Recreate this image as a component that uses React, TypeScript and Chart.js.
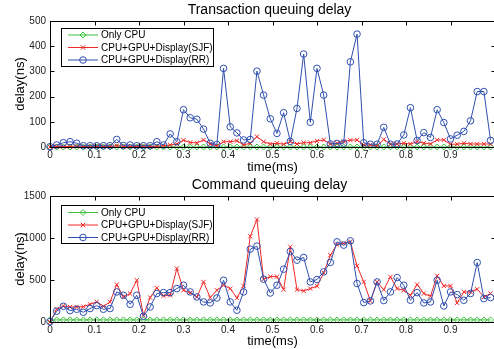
import { useEffect, useRef } from 'react';
import { Chart, registerables } from 'chart.js';

Chart.register(...registerables);
Chart.defaults.font.family = '"Liberation Sans", Arial, Helvetica, sans-serif';

// ---------- data ----------
const timeMs = [
  0, 0.015, 0.03, 0.045, 0.06, 0.075, 0.09, 0.105, 0.12, 0.135, 0.15, 0.165, 0.18, 0.195, 0.21, 0.225,
  0.24, 0.255, 0.27, 0.285, 0.3, 0.315, 0.33, 0.345, 0.36, 0.375, 0.39, 0.405, 0.42, 0.435, 0.45, 0.465,
  0.48, 0.495, 0.51, 0.525, 0.54, 0.555, 0.57, 0.585, 0.6, 0.615, 0.63, 0.645, 0.66, 0.675, 0.69, 0.705,
  0.72, 0.735, 0.75, 0.765, 0.78, 0.795, 0.81, 0.825, 0.84, 0.855, 0.87, 0.885, 0.9, 0.915, 0.93, 0.945,
  0.96, 0.975, 0.99,
];

const seriesLabels = ['Only CPU', 'CPU+GPU+Display(SJF)', 'CPU+GPU+Display(RR)'];
const chartTitles = ['Transaction queuing delay', 'Command queuing delay'];
const xAxisTitle = 'time(ms)';
const yAxisTitle = 'delay(ns)';

const xTickValues = [0, 0.1, 0.2, 0.3, 0.4, 0.5, 0.6, 0.7, 0.8, 0.9];
const xTickLabels = ['0', '0.1', '0.2', '0.3', '0.4', '0.5', '0.6', '0.7', '0.8', '0.9'];
const yTicksTrans = [0, 100, 200, 300, 400, 500];
const yTickLabelsTrans = ['0', '100', '200', '300', '400', '500'];
const yTicksCmd = [0, 500, 1000, 1500];
const yTickLabelsCmd = ['0', '500', '1000', '1500'];

// Transaction queuing delay (ns)
const onlyCpuTrans = [
  0, 0, 0, 0, 0, 0, 0, 0, 0, 0, 0, 0, 0, 0, 0, 0, 0, 0, 0, 0, 0, 0, 0, 0, 0, 0, 0, 0, 0, 0, 0, 0, 0, 0,
  0, 0, 0, 0, 0, 0, 0, 0, 0, 0, 0, 0, 0, 0, 0, 0, 0, 0, 0, 0, 0, 0, 0, 0, 0, 0, 0, 0, 0, 0, 0, 0, 0,
];
const sjfTrans = [
  0, 2, 2, 2, 3, 2, 2, 3, 2, 2, 5, 3, 2, 2, 3, 2, 3, 5, 8, 12, 27, 18, 16, 28, 12, 5, 21, 21, 25, 8, 15, 41,
  21, 12, 15, 11, 21, 12, 17, 17, 24, 28, 12, 15, 22, 27, 28, 8, 8, 5, 30, 11, 12, 15, 12, 21, 15, 12, 28,
  28, 11, 11, 15, 12, 12, 12, 12,
];
const rrTrans = [
  1, 8, 17, 21, 15, 5, 5, 5, 5, 5, 30, 6, 8, 5, 5, 5, 21, 8, 52, 21, 148, 116, 110, 71, 15, 10, 312, 80, 56,
  28, 30, 301, 206, 112, 54, 136, 22, 153, 369, 98, 312, 206, 12, 14, 15, 338, 448, 17, 11, 11, 78, 11, 12,
  48, 156, 26, 57, 38, 148, 97, 32, 47, 62, 104, 220, 220, 26,
];

// Command queuing delay (ns)
const onlyCpuCmd = [
  25, 25, 25, 25, 25, 25, 25, 25, 25, 25, 25, 25, 25, 25, 25, 25, 25, 25, 25, 25, 25, 25, 25, 25, 25, 25,
  25, 25, 25, 25, 25, 25, 25, 25, 25, 25, 25, 25, 25, 25, 25, 25, 25, 25, 25, 25, 25, 25, 25, 25, 25, 25,
  25, 25, 25, 25, 25, 25, 25, 25, 25, 25, 25, 25, 25, 25, 25,
];
const sjfCmd = [
  0, 152, 191, 179, 179, 183, 211, 239, 187, 239, 446, 298, 338, 497, 80, 291, 406, 311, 318, 637, 378,
  346, 298, 477, 291, 378, 438, 398, 286, 430, 1020, 1220, 510, 540, 540, 386, 895, 386, 370, 398, 426,
  585, 796, 923, 935, 954, 668, 477, 251, 477, 385, 537, 398, 378, 318, 446, 339, 307, 549, 430, 430, 227,
  358, 358, 390, 298, 339,
];
const rrCmd = [
  5, 128, 187, 136, 152, 116, 160, 195, 152, 160, 358, 318, 211, 318, 68, 179, 338, 350, 350, 398, 438,
  358, 298, 239, 227, 286, 497, 239, 140, 358, 867, 903, 510, 345, 438, 629, 840, 736, 768, 477, 506, 597,
  709, 954, 915, 966, 458, 231, 251, 477, 255, 358, 529, 438, 259, 350, 227, 239, 497, 191, 358, 327, 259,
  339, 708, 279, 291,
];

// ---------- styles ----------
const GREEN = '#3cbf3c';
const RED = '#f02828';
const BLUE = '#2f4fae';
const seriesStyles = [
  { color: GREEN, pointStyle: 'rectRot', radius: 3 },
  { color: RED, pointStyle: 'crossRot', radius: 3 },
  { color: BLUE, pointStyle: 'circle', radius: 3.3 },
];

function drawMarker(ctx: CanvasRenderingContext2D, style: string, x: number, y: number, r: number) {
  ctx.beginPath();
  if (style === 'circle') {
    ctx.arc(x, y, r, 0, Math.PI * 2);
  } else if (style === 'rectRot') {
    ctx.moveTo(x, y - r);
    ctx.lineTo(x + r, y);
    ctx.lineTo(x, y + r);
    ctx.lineTo(x - r, y);
    ctx.closePath();
  } else {
    const d = r * 0.75;
    ctx.moveTo(x - d, y - d);
    ctx.lineTo(x + d, y + d);
    ctx.moveTo(x + d, y - d);
    ctx.lineTo(x - d, y + d);
  }
  ctx.stroke();
}

const framePlugin = {
  id: 'matlabFrame',
  afterDatasetsDraw(chart: any, _args: any, opts: any) {
    const { ctx, chartArea: a, scales } = chart;
    ctx.save();
    ctx.strokeStyle = '#000';
    ctx.lineWidth = 1;
    const L = Math.round(a.left) + 0.5;
    const R = Math.round(a.right) + 0.5;
    const T = Math.round(a.top) + 0.5;
    const B = Math.round(a.bottom) + 0.5;
    ctx.strokeRect(L, T, R - L, B - T);
    const tl = 4;
    ctx.beginPath();
    for (const v of opts.xTicks) {
      const px = Math.round(scales.x.getPixelForValue(v)) + 0.5;
      ctx.moveTo(px, B);
      ctx.lineTo(px, B - tl);
      ctx.moveTo(px, T);
      ctx.lineTo(px, T + tl);
    }
    for (const v of opts.yTicks) {
      const py = Math.round(scales.y.getPixelForValue(v)) + 0.5;
      ctx.moveTo(L, py);
      ctx.lineTo(L + tl, py);
      ctx.moveTo(R, py);
      ctx.lineTo(R - tl, py);
    }
    ctx.stroke();

    // legend
    const lg = opts.legend;
    ctx.fillStyle = '#fff';
    ctx.fillRect(lg.left, lg.top, lg.right - lg.left, lg.bottom - lg.top);
    ctx.strokeStyle = '#000';
    ctx.strokeRect(lg.left + 0.5, lg.top + 0.5, lg.right - lg.left, lg.bottom - lg.top);
    ctx.font = '10px "Liberation Sans", Arial, sans-serif';
    ctx.textBaseline = 'middle';
    ctx.textAlign = 'left';
    chart.data.datasets.forEach((ds: any, i: number) => {
      const st = seriesStyles[i];
      const y = lg.rows[i];
      ctx.strokeStyle = st.color;
      ctx.lineWidth = 1;
      ctx.beginPath();
      ctx.moveTo(lg.lineX0, y);
      ctx.lineTo(lg.lineX1, y);
      ctx.stroke();
      drawMarker(ctx, st.pointStyle, (lg.lineX0 + lg.lineX1) / 2, y, st.radius);
      ctx.fillStyle = '#000';
      ctx.fillText(ds.label, lg.textX, y + 0.5);
    });

    // title
    ctx.fillStyle = '#000';
    ctx.font = '14px "Liberation Sans", Arial, sans-serif';
    ctx.textAlign = 'center';
    ctx.textBaseline = 'middle';
    ctx.fillText(opts.title, (a.left + a.right) / 2 - 3, opts.titleY);
    ctx.restore();
  },
};

function makeConfig(
  title: string,
  series: number[][],
  yMax: number,
  yTicks: number[],
  yLabels: string[],
  xAxisHeight: number,
  legend: any,
) {
  return {
    type: 'line' as const,
    data: {
      datasets: series.map((vals, i) => ({
        label: seriesLabels[i],
        data: vals.map((v, k) => ({ x: timeMs[k], y: v })),
        borderColor: seriesStyles[i].color,
        backgroundColor: 'transparent',
        pointBorderColor: seriesStyles[i].color,
        pointBackgroundColor: 'transparent',
        pointStyle: seriesStyles[i].pointStyle,
        pointRadius: seriesStyles[i].radius,
        pointBorderWidth: 1,
        borderWidth: 1,
        tension: 0,
        clip: false,
        order: 3 - i,
      })),
    },
    options: {
      responsive: false,
      animation: false,
      events: [],
      layout: { padding: { top: 21, right: 4, left: 0, bottom: 0 } },
      plugins: {
        legend: { display: false },
        tooltip: { enabled: false },
        title: { display: false },
        matlabFrame: { xTicks: xTickValues, yTicks, legend, title, titleY: 10 },
      },
      scales: {
        x: {
          type: 'linear',
          min: 0,
          max: 1,
          grid: { display: false, drawTicks: false },
          border: { display: false },
          afterBuildTicks: (s: any) => {
            s.ticks = xTickValues.map((v) => ({ value: v }));
          },
          afterFit: (s: any) => {
            s.height = xAxisHeight;
          },
          ticks: {
            padding: 2,
            color: '#222',
            font: { size: 10 },
            maxRotation: 0,
            autoSkip: false,
            callback: (v: number) => xTickLabels[xTickValues.indexOf(v)] ?? '',
          },
          title: { display: true, text: xAxisTitle, color: '#000', font: { size: 13 }, padding: 0 },
        },
        y: {
          type: 'linear',
          min: 0,
          max: yMax,
          grid: { display: false, drawTicks: false },
          border: { display: false },
          afterBuildTicks: (s: any) => {
            s.ticks = yTicks.map((v) => ({ value: v }));
          },
          afterFit: (s: any) => {
            s.width = 50;
          },
          ticks: {
            padding: 4,
            color: '#222',
            font: { size: 10 },
            autoSkip: false,
            callback: (v: number) => yLabels[yTicks.indexOf(v)] ?? '',
          },
          title: {
            display: true,
            text: yAxisTitle,
            color: '#000',
            font: { size: 13 },
            padding: { top: 13, bottom: 0 },
          },
        },
      },
    },
    plugins: [framePlugin],
  };
}

export default function App() {
  const topRef = useRef<HTMLCanvasElement>(null);
  const botRef = useRef<HTMLCanvasElement>(null);

  useEffect(() => {
    const top = new Chart(
      topRef.current as HTMLCanvasElement,
      makeConfig(chartTitles[0], [onlyCpuTrans, sjfTrans, rrTrans], 500, yTicksTrans, yTickLabelsTrans, 28, {
        left: 61,
        top: 28,
        right: 213,
        bottom: 66,
        rows: [35, 47.5, 60],
        lineX0: 68,
        lineX1: 98,
        textX: 101,
      }) as any,
    );
    const bot = new Chart(
      botRef.current as HTMLCanvasElement,
      makeConfig(chartTitles[1], [onlyCpuCmd, sjfCmd, rrCmd], 1500, yTicksCmd, yTickLabelsCmd, 27, {
        left: 61,
        top: 30,
        right: 213,
        bottom: 68,
        rows: [37.5, 50, 62.5],
        lineX0: 68,
        lineX1: 98,
        textX: 101,
      }) as any,
    );
    return () => {
      top.destroy();
      bot.destroy();
    };
  }, []);

  return (
    <div
      style={{
        position: 'fixed',
        left: 0,
        top: 0,
        width: 494,
        height: 349,
        overflow: 'hidden',
        background: '#fff',
      }}
    >
      <canvas ref={topRef} width={500} height={175} style={{ position: 'absolute', left: 0, top: 0 }} />
      <canvas ref={botRef} width={500} height={174} style={{ position: 'absolute', left: 0, top: 175 }} />
    </div>
  );
}
